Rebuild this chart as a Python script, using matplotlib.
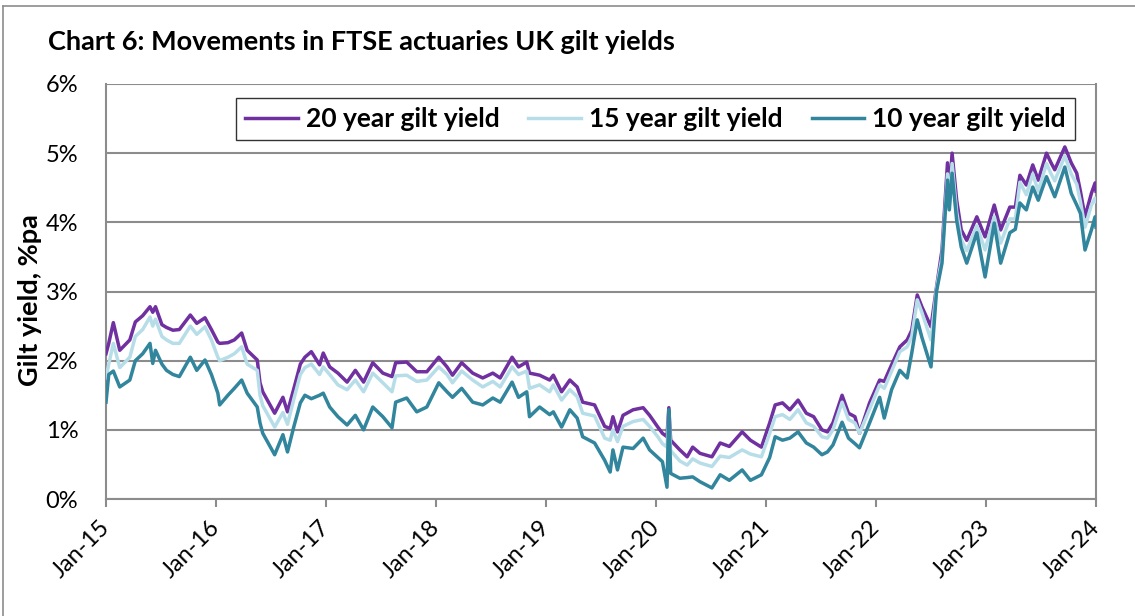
import matplotlib
matplotlib.use("Agg")
import matplotlib.pyplot as plt
import matplotlib.transforms as mtransforms
from matplotlib.lines import Line2D

plt.rcParams['font.family'] = ['Lato', 'DejaVu Sans']

# months since Jan-2015
months = [0.0, 0.3, 0.8, 1.5, 2.6, 3.2, 4.0, 4.8, 5.1, 5.4, 6.1, 6.6, 7.3, 8.0, 9.2, 9.9, 10.8, 11.5,
          12.2, 12.4, 13.3, 14.0, 14.8, 15.4, 16.5, 16.8, 17.1, 18.4, 19.3, 19.8, 20.5, 21.2, 21.7,
          22.4, 23.3, 23.7, 24.4, 25.3, 26.3, 27.2, 28.1, 29.1, 30.2, 31.2, 31.6, 32.8, 33.9, 35.0,
          36.3, 37.2, 37.8, 38.8, 40.0, 41.1, 42.2, 43.0, 44.3, 45.0, 45.9, 46.2, 47.3, 48.4, 48.8,
          49.7, 50.6, 51.4, 52.0, 53.3, 54.4, 55.0, 55.3, 55.8, 56.4, 57.5, 58.6, 59.3, 60.2, 60.7,
          61.2, 61.4, 61.6, 62.6, 63.4, 64.0, 64.8, 66.1, 67.0, 68.0, 69.4, 70.3, 71.5, 72.4, 73.0,
          73.8, 74.6, 75.5, 76.4, 77.2, 78.1, 78.7, 79.3, 80.3, 81.0, 81.7, 82.2, 83.3, 84.4, 84.9,
          85.7, 86.6, 87.4, 87.9, 88.5, 89.0, 90.0, 90.6, 91.2, 91.5, 91.8, 92.0, 92.3, 92.8, 93.3,
          93.9, 95.0, 95.9, 96.9, 97.6, 98.6, 99.2, 99.7, 100.4, 101.1, 101.7, 102.6, 103.1, 103.5,
          104.6, 105.3, 105.9, 106.3, 106.8, 107.5, 107.9, 108.0]

yield_20y = [2.10, 2.25, 2.55, 2.15, 2.30, 2.56, 2.65, 2.78, 2.70, 2.78, 2.52, 2.48, 2.44, 2.45, 2.66, 2.54, 2.62, 2.45,
             2.27, 2.25, 2.26, 2.30, 2.40, 2.15, 2.01, 1.68, 1.55, 1.24, 1.47, 1.26, 1.60, 1.95, 2.05,
             2.13, 1.94, 2.11, 1.91, 1.82, 1.69, 1.86, 1.69, 1.97, 1.82, 1.77, 1.97, 1.98, 1.84, 1.84,
             2.05, 1.91, 1.79, 1.97, 1.82, 1.75, 1.82, 1.75, 2.05, 1.91, 1.98, 1.82, 1.79, 1.72, 1.79,
             1.55, 1.72, 1.62, 1.40, 1.36, 1.05, 1.02, 1.19, 0.97, 1.21, 1.29, 1.32, 1.21, 1.04, 0.95,
             0.90, 1.32, 0.85, 0.71, 0.61, 0.75, 0.66, 0.61, 0.81, 0.76, 0.97, 0.85, 0.75, 1.10, 1.36,
             1.39, 1.29, 1.43, 1.24, 1.19, 1.00, 0.97, 1.10, 1.50, 1.24, 1.19, 0.95, 1.39, 1.72, 1.70,
             1.94, 2.20, 2.30, 2.44, 2.95, 2.78, 2.49, 3.06, 3.60, 4.22, 4.86, 4.40, 5.00, 4.32, 3.89,
             3.74, 4.08, 3.79, 4.25, 3.89, 4.22, 4.22, 4.68, 4.54, 4.83, 4.61, 5.00, 4.86, 4.76,
             5.09, 4.86, 4.71, 4.45, 4.08, 4.42, 4.57, 4.45]

yield_15y = [1.75, 1.95, 2.25, 1.90, 2.05, 2.35, 2.45, 2.63, 2.50, 2.60, 2.35, 2.30, 2.25, 2.25, 2.50, 2.38, 2.49, 2.30,
             2.05, 2.00, 2.05, 2.10, 2.20, 1.95, 1.86, 1.50, 1.35, 1.04, 1.25, 1.08, 1.45, 1.80, 1.90,
             1.95, 1.80, 1.91, 1.80, 1.65, 1.58, 1.72, 1.55, 1.82, 1.68, 1.55, 1.78, 1.79, 1.70, 1.72,
             1.91, 1.80, 1.68, 1.85, 1.72, 1.62, 1.70, 1.62, 1.91, 1.80, 1.85, 1.60, 1.65, 1.55, 1.65,
             1.43, 1.58, 1.48, 1.24, 1.20, 0.88, 0.85, 1.00, 0.83, 1.05, 1.12, 1.15, 1.05, 0.90, 0.80,
             0.75, 1.25, 0.70, 0.55, 0.49, 0.58, 0.52, 0.47, 0.62, 0.60, 0.71, 0.65, 0.61, 0.95, 1.19,
             1.22, 1.15, 1.29, 1.10, 1.05, 0.90, 0.88, 1.00, 1.40, 1.15, 1.10, 0.95, 1.30, 1.65, 1.60,
             1.85, 2.13, 2.20, 2.35, 2.88, 2.70, 2.30, 3.04, 3.50, 4.10, 4.70, 4.25, 4.85, 4.15, 3.75,
             3.59, 3.95, 3.60, 4.08, 3.70, 4.05, 4.05, 4.58, 4.40, 4.70, 4.45, 4.85, 4.70, 4.60,
             4.96, 4.70, 4.55, 4.30, 3.93, 4.25, 4.35, 4.30]

yield_10y = [1.40, 1.80, 1.85, 1.62, 1.72, 2.00, 2.10, 2.25, 1.96, 2.15, 1.95, 1.86, 1.80, 1.77, 2.05, 1.86, 2.01, 1.80,
             1.53, 1.36, 1.50, 1.60, 1.72, 1.53, 1.33, 1.10, 0.95, 0.64, 0.93, 0.68, 1.05, 1.39, 1.50,
             1.45, 1.50, 1.53, 1.33, 1.19, 1.07, 1.21, 1.00, 1.33, 1.19, 1.03, 1.40, 1.46, 1.26, 1.33,
             1.68, 1.55, 1.47, 1.60, 1.40, 1.36, 1.46, 1.40, 1.69, 1.47, 1.55, 1.19, 1.33, 1.22, 1.26,
             1.04, 1.29, 1.17, 0.90, 0.81, 0.56, 0.39, 0.71, 0.42, 0.75, 0.73, 0.88, 0.71, 0.60, 0.54,
             0.17, 1.29, 0.37, 0.30, 0.31, 0.32, 0.25, 0.16, 0.35, 0.27, 0.42, 0.27, 0.35, 0.60, 0.90,
             0.85, 0.88, 0.97, 0.81, 0.75, 0.64, 0.68, 0.78, 1.11, 0.88, 0.80, 0.74, 1.10, 1.47, 1.17,
             1.58, 1.86, 1.75, 2.11, 2.59, 2.34, 1.91, 3.00, 3.41, 4.03, 4.61, 4.18, 4.71, 4.03, 3.64,
             3.41, 3.85, 3.21, 3.99, 3.41, 3.85, 3.90, 4.28, 4.18, 4.51, 4.32, 4.66, 4.50, 4.37,
             4.80, 4.42, 4.25, 4.13, 3.60, 3.89, 4.08, 3.93]

x_tick_months = [0, 12, 24, 36, 48, 60, 72, 84, 96, 108]
x_tick_labels = ['Jan-15', 'Jan-16', 'Jan-17', 'Jan-18', 'Jan-19', 'Jan-20', 'Jan-21', 'Jan-22', 'Jan-23', 'Jan-24']
y_ticks = [0, 1, 2, 3, 4, 5, 6]
y_tick_labels = ['0%', '1%', '2%', '3%', '4%', '5%', '6%']
series_names = ['20 year gilt yield', '15 year gilt yield', '10 year gilt yield']

c20, c15, c10 = '#7030A0', '#B7DEE8', '#31859C'
grey = '#8C8C8C'

fig = plt.figure(figsize=(11.35, 6.16), dpi=100)
ax = fig.add_axes([106 / 1135, 1 - 499 / 616, 990 / 1135, 415 / 616])

ax.plot(months, yield_20y, color=c20, lw=2.5, label=series_names[0], zorder=3)
ax.plot(months, yield_15y, color=c15, lw=2.5, label=series_names[1], zorder=4)
ax.plot(months, yield_10y, color=c10, lw=2.5, label=series_names[2], zorder=5)

ax.set_xlim(0, 108)
ax.set_ylim(0, 6)
ax.set_yticks(y_ticks)
ax.set_yticklabels(y_tick_labels)
ax.set_xticks(x_tick_months)
ax.set_xticklabels(x_tick_labels, rotation=45, ha='right', va='center', rotation_mode='anchor')
offset = mtransforms.ScaledTranslation(6 / 100, -8 / 100, fig.dpi_scale_trans)
for lbl in ax.get_xticklabels():
    lbl.set_transform(lbl.get_transform() + offset)
ax.grid(axis='y', color=grey, lw=1.5, zorder=1)
ax.set_axisbelow(True)
for s in ['left', 'right', 'bottom']:
    ax.spines[s].set_color(grey)
    ax.spines[s].set_linewidth(1.5)
ax.spines['top'].set_visible(False)
ax.tick_params(axis='y', length=0, pad=20, labelsize=17)
ax.tick_params(axis='x', length=6, width=1.5, color=grey, pad=12, labelsize=17)

leg = ax.legend(loc='upper right', bbox_to_anchor=(0.979, 0.967), ncol=3, frameon=True,
                fancybox=False, edgecolor='black', handlelength=2.0, handletextpad=0.3,
                columnspacing=1.1, borderpad=0.35, borderaxespad=0.0,
                prop={'weight': 'bold', 'size': 19})
leg.get_frame().set_linewidth(1.0)

fig.text(48 / 1135, 1 - 42 / 616, 'Chart 6: Movements in FTSE actuaries UK gilt yields',
         fontsize=19.5, fontweight='bold', ha='left', va='center')
fig.text(30 / 1135, 1 - 300 / 616, 'Gilt yield, %pa', fontsize=19.5, fontweight='bold',
         rotation=90, ha='center', va='center')

# outer frame (top and left edges visible)
fig.add_artist(Line2D([3 / 1135, 3 / 1135], [0, 1 - 6 / 616], color=grey, lw=1.2))
fig.add_artist(Line2D([3 / 1135, 1], [1 - 6 / 616, 1 - 6 / 616], color=grey, lw=1.2))

fig.savefig('out.png', dpi=100)
